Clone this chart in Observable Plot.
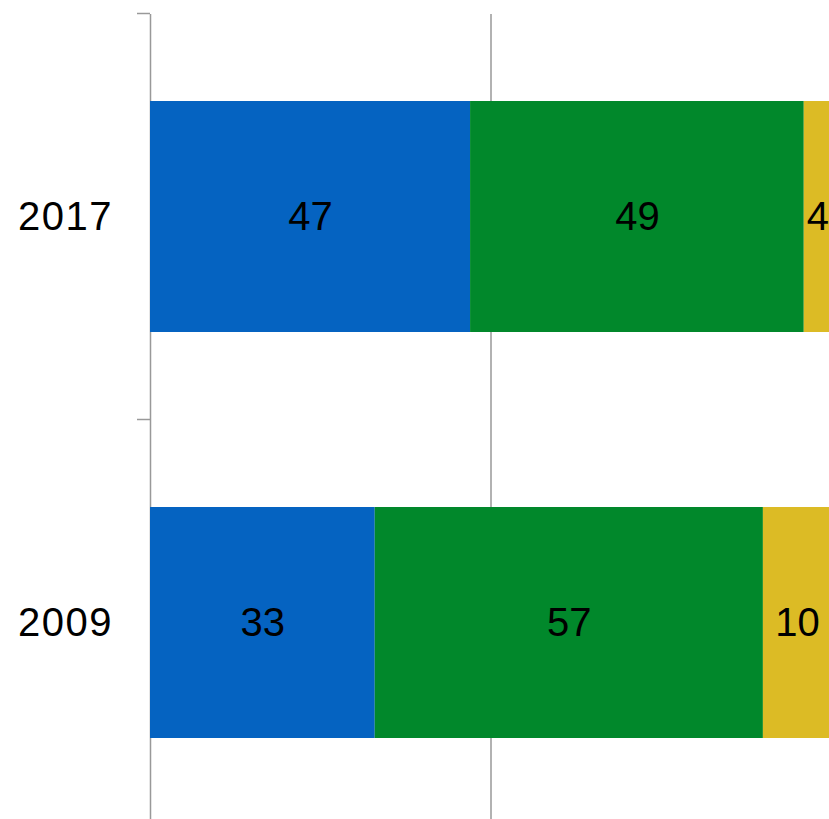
<!DOCTYPE html>
<html>
<head>
<meta charset="utf-8">
<script src="https://cdn.jsdelivr.net/npm/d3@7"></script>
<script src="https://cdn.jsdelivr.net/npm/@observablehq/plot@0.6"></script>
<style>
  html, body { margin: 0; padding: 0; background: #fff; overflow: hidden; width: 829px; height: 819px; }
  #chart { width: 900px; }
  #chart svg { display: block; max-width: none !important; width: 900px !important; height: 850px !important; }
  #chart g[aria-label="y-axis tick label"] text { letter-spacing: 1.5px; }
</style>
</head>
<body>
<div id="chart"></div>
<script>
const years = ["2017", "2009"];
const seriesNames = ["Series 1", "Series 2", "Series 3"];
const values2017 = [47, 49, 4];
const values2009 = [33, 57, 10];
const colors = ["#0563c1", "#01882b", "#dcbb25"];
const gridTicks = [0, 50, 100];

const valuesByYear = {"2017": values2017, "2009": values2009};
const data = [];
for (const y of years) {
  seriesNames.forEach((s, i) => data.push({year: y, series: s, value: valuesByYear[y][i]}));
}

const font = "Liberation Sans, Arial, sans-serif";

const plot = Plot.plot({
  width: 900,
  height: 850,
  marginLeft: 150,
  marginRight: 69,
  marginTop: 14,
  marginBottom: 24,
  style: {fontFamily: font, fontSize: "40px", color: "#000", background: "#fff"},
  x: {domain: [0, 100], axis: null},
  y: {domain: years, paddingInner: 0.43, paddingOuter: 0.215, label: null},
  color: {domain: seriesNames, range: colors},
  marks: [
    Plot.ruleX(gridTicks, {stroke: "#999", strokeWidth: 1.5}),
    Plot.barX(data, Plot.stackX({x: "value", y: "year", fill: "series", z: "series", order: seriesNames})),
    Plot.text(data, Plot.stackX({x: "value", y: "year", z: "series", text: d => String(d.value), order: seriesNames, fill: "#000", fontSize: 40})),
    Plot.axisY({tickSize: 0, tickPadding: 37.5, fontSize: 40, fill: "#000", label: null})
  ]
});

// category boundary tick marks on the y axis, derived from the band scale
const ys = plot.scale("y");
const xs = plot.scale("x");
const x0 = xs.apply(0);
const gap = (ys.step - ys.bandwidth) / 2;
const bounds = years.map(y => ys.apply(y) - gap);
bounds.push(ys.apply(years[years.length - 1]) + ys.bandwidth + gap);
const svg = d3.select(plot);
svg.append("g")
  .selectAll("line")
  .data(bounds)
  .join("line")
  .attr("x1", x0 - 13)
  .attr("x2", x0)
  .attr("y1", d => d)
  .attr("y2", d => d)
  .attr("stroke", "#999")
  .attr("stroke-width", 1.5);

document.getElementById("chart").appendChild(plot);
</script>
</body>
</html>
